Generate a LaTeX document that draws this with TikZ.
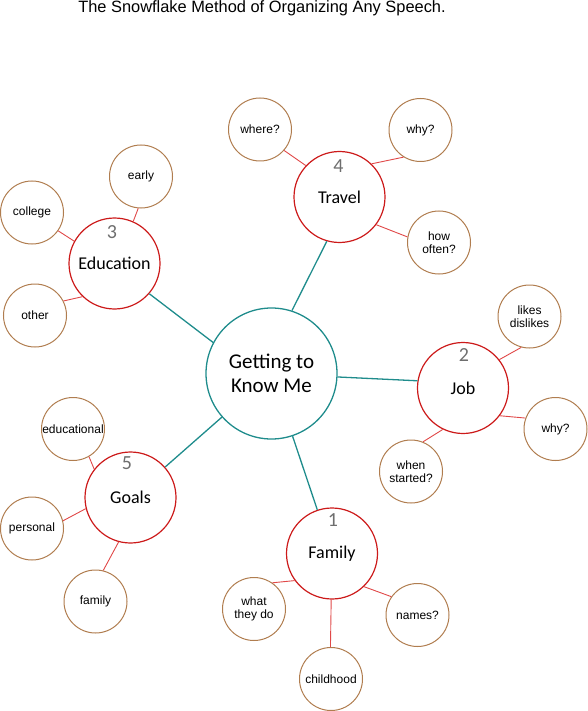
\documentclass[tikz,border=0pt]{standalone}
\usepackage{fontspec}
\setmainfont{Liberation Sans}
\newfontfamily\calfont{Carlito}
\definecolor{teal1}{HTML}{1F8C8C}
\definecolor{hubred}{HTML}{CC1A1A}
\definecolor{spokered}{HTML}{E04848}
\definecolor{leafbrown}{HTML}{B07D4F}
\definecolor{numgrey}{HTML}{6E6E6E}
\begin{document}
\begin{tikzpicture}[x=1pt,y=-1pt,
  centerbox/.style={circle,draw=teal1,line width=1.3pt,minimum size=131pt,inner sep=0pt,align=center,font=\calfont\fontsize{21}{24}\selectfont},
  hubbox/.style={circle,draw=hubred,line width=1.2pt,minimum size=91pt,inner sep=0pt,align=center,font=\calfont\fontsize{18}{21}\selectfont},
  leafbox/.style={circle,draw=leafbrown,line width=1pt,minimum size=63pt,inner sep=0pt,align=center,font=\fontsize{12}{13.5}\selectfont},
  numlabel/.style={text=numgrey,font=\calfont\fontsize{20}{20}\selectfont,inner sep=0pt},
  mainlink/.style={draw=teal1,line width=1.3pt},
  spoke/.style={draw=spokered,line width=0.9pt}]
\useasboundingbox (0,0) rectangle (588,711);
\node[font=\fontsize{16.4}{18}\selectfont,inner sep=0pt] (title) at (262,8) {The Snowflake Method of Organizing Any Speech.};
% center
\node[centerbox] (c) at (271.5,373.5) {Getting to\\Know Me};
% hubs
\node[hubbox] (travel) at (339.5,197) {Travel};
\node[hubbox] (edu) at (114.5,263.5) {Education};
\node[hubbox] (job) at (463,388) {Job};
\node[hubbox] (goals) at (130.5,497.5) {Goals};
\node[hubbox] (fam) at (332,553.5) {Family};
% numbers
\node[numlabel] (n4) at (338.5,166) {4};
\node[numlabel] (n3) at (112,232) {3};
\node[numlabel] (n2) at (464,355) {2};
\node[numlabel] (n5) at (127,463.5) {5};
\node[numlabel] (n1) at (333,520) {1};
% leaves
\node[leafbox] (where) at (260,129.5) {where?};
\node[leafbox] (twhy) at (420.5,130) {why?};
\node[leafbox] (often) at (439,242.5) {how\\often?};
\node[leafbox] (early) at (141,176.5) {early};
\node[leafbox] (college) at (32,212.5) {college};
\node[leafbox] (other) at (35,315.5) {other};
\node[leafbox] (likes) at (529.5,316.5) {likes\\dislikes};
\node[leafbox] (jwhy) at (555.5,429) {why?};
\node[leafbox] (started) at (411,471.5) {when\\started?};
\node[leafbox] (educational) at (73,429) {educational};
\node[leafbox] (personal) at (32,528.5) {personal};
\node[leafbox] (gfamily) at (95.5,601.5) {family};
\node[leafbox] (whatdo) at (254,609) {what\\they do};
\node[leafbox] (names) at (417.5,615) {names?};
\node[leafbox] (child) at (331,679) {childhood};
% main links
\draw[mainlink] (c.72) -- (travel.-106);
\draw[mainlink] (c.152) -- (edu.-41);
\draw[mainlink] (c.-3) -- (job.171);
\draw[mainlink] (c) -- (goals);
\draw[mainlink] (c) -- (fam);
% spokes
\draw[spoke] (travel.137) -- (where.-41);
\draw[spoke] (travel.46) -- (twhy.-122);
\draw[spoke] (travel.-37) -- (often.170);
\draw[spoke] (edu.66) -- (early.-95);
\draw[spoke] (edu.151) -- (college.-35);
\draw[spoke] (edu.-134) -- (other.27);
\draw[spoke] (job.38) -- (likes.-105);
\draw[spoke] (job.-37) -- (jwhy.160);
\draw[spoke] (job.-116) -- (started.68);
\draw[spoke] (goals.142) -- (educational.-60);
\draw[spoke] (goals.-166) -- (personal.14);
\draw[spoke] (goals.-105) -- (gfamily.76);
\draw[spoke] (fam.-144) -- (whatdo.55);
\draw[spoke] (fam.-46) -- (names.145);
\draw[spoke] (fam.-91) -- (child.91);
\end{tikzpicture}
\end{document}
